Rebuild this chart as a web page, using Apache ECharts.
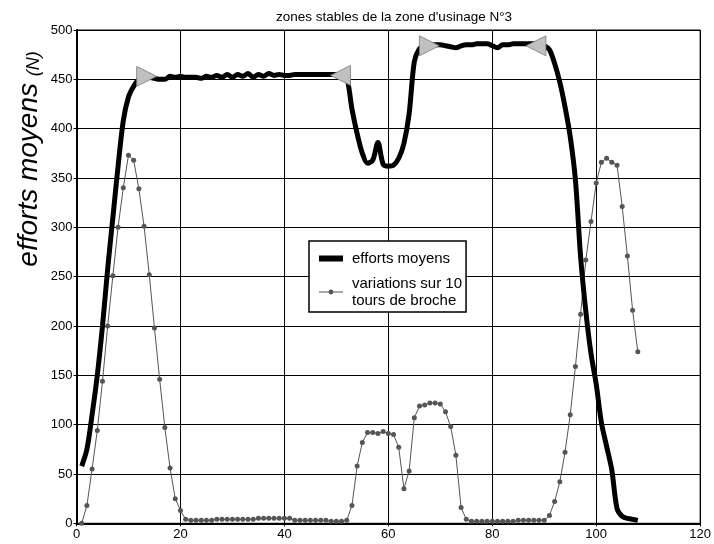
<!DOCTYPE html>
<html>
<head>
<meta charset="utf-8">
<script src="https://cdn.jsdelivr.net/npm/echarts@6/dist/echarts.min.js"></script>
<style>html,body{margin:0;padding:0;background:#fff}#c{width:714px;height:544px}</style>
</head>
<body>
<div id="c"></div>
<script>
// x positions are 1..N (one sample per unit)
const effortsMoyens = [
  58, 75, 110, 150, 200, 258, 310, 362, 408, 432,
  443, 450, 452, 452, 451, 450, 450, 453, 452, 453,
  452, 452, 452, 451, 453, 452, 454, 452, 455, 452,
  455, 453, 456, 452, 455, 453, 456, 454, 455, 454,
  454, 455, 455, 455, 455, 455, 455, 455, 455, 455,
  455, 452, 420, 395, 375, 365, 368, 386, 364, 362,
  363, 370, 385, 415, 468, 481, 484, 485, 485, 485,
  484, 483, 482, 484, 485, 485, 486, 486, 486, 484,
  482, 485, 485, 486, 486, 486, 486, 486, 485, 484,
  480, 466, 447, 422, 392, 348, 270, 215, 172, 141,
  102, 78, 54, 15, 7, 5, 4, 3
];
const variations10Tours = [
  0, 18, 55, 94, 144, 200, 251, 300, 340, 373,
  368, 339, 301, 252, 198, 146, 97, 56, 25, 13,
  4, 3, 3, 3, 3, 3, 4, 4, 4, 4,
  4, 4, 4, 4, 5, 5, 5, 5, 5, 5,
  5, 3, 3, 3, 3, 3, 3, 3, 2, 2,
  2, 3, 18, 58, 82, 92, 92, 91, 93, 91,
  90, 77, 35, 53, 107, 119, 120, 122, 122, 121,
  113, 98, 69, 16, 4, 2, 2, 2, 2, 2,
  2, 2, 2, 2, 3, 3, 3, 3, 3, 3,
  8, 22, 42, 72, 110, 159, 212, 267, 306, 345,
  366, 370, 366, 363, 321, 271, 216, 174
];
// stable zone markers: [x, y, direction]
const zoneMarkersX = [13.5, 50.8, 67.9, 88.4];
const zoneMarkersY = [453, 454, 484, 484];
const zoneMarkersDir = ['right', 'left', 'right', 'left'];

const xTicks = { min: 0, max: 120, interval: 20 };
const yTicks = { min: 0, max: 500, interval: 50 };

const titleText = "zones stables de la zone d'usinage N°3";
const seriesNames = ['efforts moyens', 'variations sur 10\ntours de broche'];

const toPairs = arr => arr.map((v, i) => [i + 1, v]);
const markers = zoneMarkersX.map((x, i) => ({
  value: [x, zoneMarkersY[i]],
  symbolRotate: zoneMarkersDir[i] === 'right' ? -90 : 90
}));

const FONT = 'Liberation Sans, Arial, sans-serif';
const chart = echarts.init(document.getElementById('c'), null, { renderer: 'canvas' });
chart.setOption({
  animation: false,
  backgroundColor: '#fff',
  title: {
    text: titleText, left: 389, top: 5, textAlign: 'center',
    textStyle: { fontFamily: FONT, fontSize: 13.5, fontWeight: 'normal', color: '#000' }
  },
  grid: { left: 76.5, right: 13.5, top: 30, bottom: 20.7, show: true, borderColor: '#000', borderWidth: 1 },
  legend: {
    orient: 'vertical', left: 309, top: 241,
    backgroundColor: '#fff', borderColor: '#000', borderWidth: 1.5, borderRadius: 0,
    padding: [9, 4, 3, 7], itemGap: 8, itemWidth: 24, itemHeight: 6,
    textStyle: { fontFamily: FONT, fontSize: 15, color: '#000', lineHeight: 17, padding: [0, 0, 0, 4] },
    data: [
      { name: seriesNames[0], lineStyle: { width: 6, color: '#000' } },
      { name: seriesNames[1], lineStyle: { width: 1, color: '#555' } }
    ]
  },
  xAxis: {
    type: 'value', min: xTicks.min, max: xTicks.max, interval: xTicks.interval,
    axisLine: { lineStyle: { color: '#000', width: 2 } },
    axisTick: { show: true, length: 3, lineStyle: { color: '#000' } },
    axisLabel: { fontFamily: FONT, fontSize: 13, color: '#000', margin: 5 },
    splitLine: { lineStyle: { color: '#000', width: 1 } }
  },
  yAxis: {
    type: 'value', min: yTicks.min, max: yTicks.max, interval: yTicks.interval,
    axisLine: { show: true, lineStyle: { color: '#000', width: 2 } },
    axisTick: { show: true, length: 3, lineStyle: { color: '#000' } },
    axisLabel: { fontFamily: FONT, fontSize: 13, color: '#000', margin: 4 },
    splitLine: { lineStyle: { color: '#000', width: 1 } }
  },
  graphic: [{
    type: 'text', x: 29, y: 159, rotation: Math.PI / 2,
    style: {
      text: '{a|efforts moyens}  {b|(N)}',
      align: 'center', verticalAlign: 'middle',
      fill: '#000',
      rich: {
        a: { fontFamily: FONT, fontSize: 28, fontStyle: 'italic', fill: '#000', verticalAlign: 'bottom' },
        b: { fontFamily: FONT, fontSize: 18, fontStyle: 'italic', fill: '#000', verticalAlign: 'bottom' }
      }
    }
  }],
  series: [
    {
      name: seriesNames[0], type: 'line', data: toPairs(effortsMoyens),
      smooth: 0.3, symbol: 'none', z: 3,
      lineStyle: { color: '#000', width: 5 }, itemStyle: { color: '#000' }
    },
    {
      name: seriesNames[1], type: 'line', data: toPairs(variations10Tours),
      symbol: 'circle', symbolSize: 5, z: 2,
      lineStyle: { color: '#555', width: 1 }, itemStyle: { color: '#555' }
    },
    {
      name: 'zones', type: 'scatter', data: markers, z: 5,
      symbol: 'triangle', symbolSize: [20, 20],
      itemStyle: { color: '#c0c0c0', borderColor: '#7a7a7a', borderWidth: 0.8, opacity: 1 }
    }
  ]
});
</script>
</body>
</html>
